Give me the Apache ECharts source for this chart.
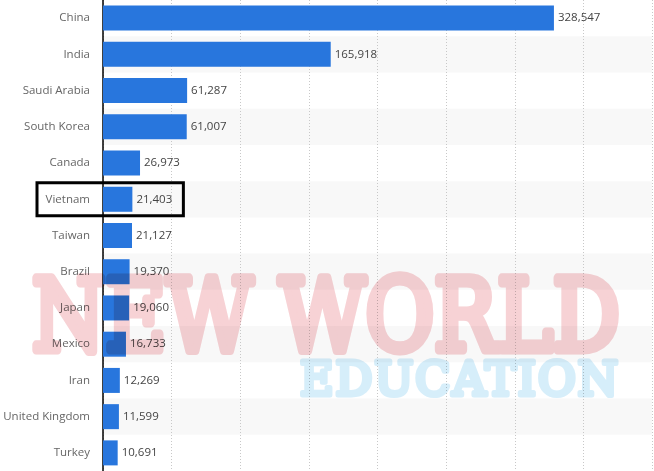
<!DOCTYPE html>
<html><head><meta charset="utf-8">
<script src="https://cdn.jsdelivr.net/npm/echarts@6/dist/echarts.min.js"></script>
<style>
html,body{margin:0;padding:0;background:#fff}
#wrap{position:relative;width:654px;height:471px;isolation:isolate;background:#fff}
#c{width:654px;height:471px}
#wm{position:absolute;left:0;top:0;width:654px;height:471px;pointer-events:none;mix-blend-mode:multiply}
</style>
</head><body><div id="wrap"><div id="c"></div>
<svg id="wm" width="654" height="471" xmlns="http://www.w3.org/2000/svg">
  <text id="wmTop" x="32" y="350" font-family="DejaVu Serif" font-size="100" fill="#f7d2d5" stroke="#f7d2d5" stroke-width="9" stroke-linejoin="round" textLength="588" lengthAdjust="spacingAndGlyphs"></text>
  <text id="wmBot" x="300" y="395" font-family="DejaVu Serif" font-size="46" fill="#d6eefa" stroke="#d6eefa" stroke-width="5" stroke-linejoin="round" textLength="318" lengthAdjust="spacing"></text>
</svg></div>
<script>
const categories = ['China','India','Saudi Arabia','South Korea','Canada','Vietnam','Taiwan','Brazil','Japan','Mexico','Iran','United Kingdom','Turkey'];
const values = [328547,165918,61287,61007,26973,21403,21127,19370,19060,16733,12269,11599,10691];
const highlighted = 'Vietnam';
const watermarkTop = 'NEW WORLD';
const watermarkBottom = 'EDUCATION';

document.getElementById('wmTop').textContent = watermarkTop;
document.getElementById('wmBot').textContent = watermarkBottom;

const chart = echarts.init(document.getElementById('c'), null, {renderer:'canvas'});
const font = "'Open Sans', sans-serif";
chart.setOption({
  animation:false,
  grid:{left:103,right:2,top:0,bottom:0,containLabel:false},
  xAxis:{type:'value',min:0,max:400000,interval:50000,
    axisLabel:{show:false},axisLine:{show:false},axisTick:{show:false},
    splitLine:{show:true,lineStyle:{color:'#c8c8c8',type:[1,2],width:1}}},
  yAxis:{type:'category',data:categories,inverse:true,
    axisLine:{show:true,lineStyle:{color:'#000',width:1.5}},
    axisTick:{show:false},
    axisLabel:{color:'#666',fontSize:11.5,fontFamily:font,margin:13},
    splitArea:{show:true,areaStyle:{color:['rgba(255,255,255,0)','#f8f8f8']}}},
  series:[{type:'bar',data:values,barWidth:25,
    itemStyle:{color:'#2876dd'},
    label:{show:true,position:'right',distance:4,color:'#444',fontSize:11.5,fontFamily:font,
      formatter:p=>p.value.toLocaleString('en-US')}}]
});

function addGraphics(){
  const idx = categories.indexOf(highlighted);
  const yc = chart.convertToPixel({yAxisIndex:0}, highlighted);
  const x0 = chart.convertToPixel({xAxisIndex:0}, 0);
  const xv = chart.convertToPixel({xAxisIndex:0}, values[idx]);
  chart.setOption({graphic:[
    {type:'rect',z:100,shape:{x:x0-66,y:yc-16.5,width:(xv+51)-(x0-66),height:33},
      style:{fill:'none',stroke:'#000',lineWidth:3}}
  ]});
}
addGraphics();
</script></body></html>
